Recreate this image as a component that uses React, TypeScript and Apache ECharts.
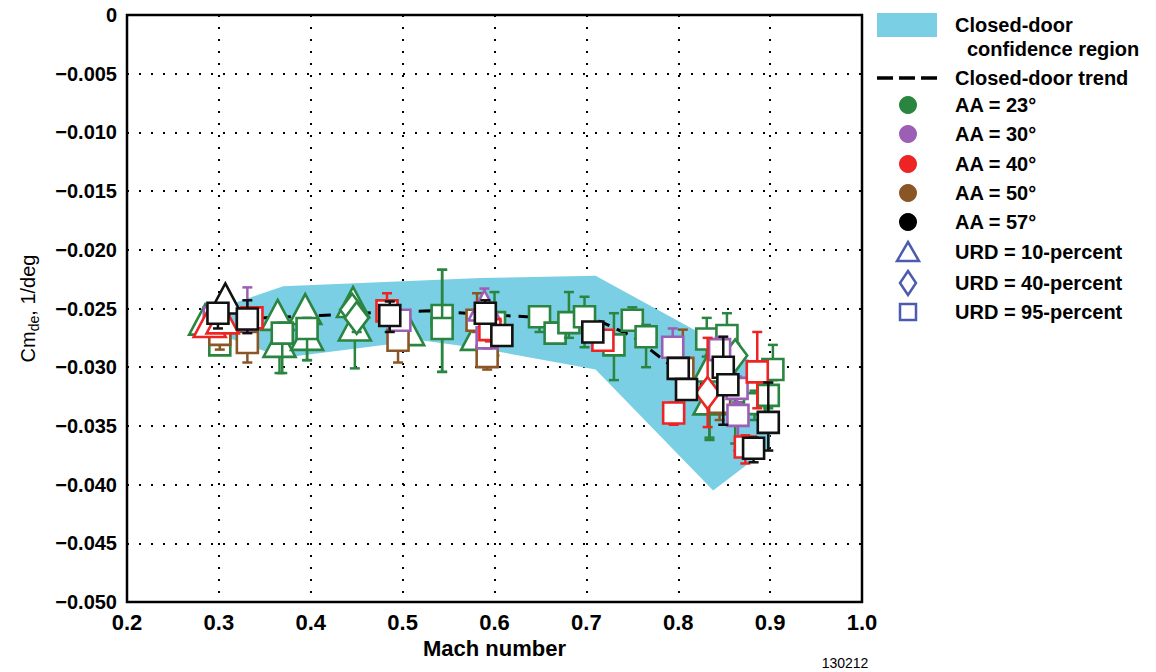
import React, { useEffect, useRef } from 'react';
import * as echarts from 'echarts';

const GREEN = '#2a8540';
const PURPLE = '#9b5fb5';
const RED = '#ee2424';
const BROWN = '#8b5626';
const BLACK = '#111111';
const CYAN = '#7bcfe4';
const LEG_BLUE = '#4a5bb0';

// x ticks / y ticks
const xTicks = [0.2, 0.3, 0.4, 0.5, 0.6, 0.7, 0.8, 0.9, 1.0];
const yMin = -0.05;
const yMax = 0;
const yStep = 0.005;

// Closed-door confidence region outline [Mach, Cm_de]
const regionOutline: number[][] = [
  [0.300, -0.0250], [0.370, -0.0231], [0.585, -0.0224], [0.710, -0.0222],
  [0.880, -0.0295], [0.900, -0.0310], [0.900, -0.0368], [0.838, -0.0405],
  [0.710, -0.0302], [0.585, -0.0284], [0.520, -0.0277], [0.370, -0.0292],
  [0.300, -0.0272],
];

// Closed-door trend [Mach, Cm_de]
const trend: number[][] = [
  [0.300, -0.0257], [0.345, -0.0258], [0.410, -0.0256], [0.480, -0.0253],
  [0.530, -0.0252], [0.610, -0.0256], [0.660, -0.0258], [0.715, -0.0261],
  [0.751, -0.0274], [0.791, -0.0298], [0.829, -0.0316],
];

// points: [Mach, Cm_de, errLow, errHigh, shape]  shape: 0 triangle (URD 10), 1 diamond (URD 40), 2 square (URD 95)
const aa23: number[][] = [
  [0.285, -0.0262, -0.0272, -0.0255, 0],
  [0.301, -0.0281, -0.0288, -0.0272, 2],
  [0.364, -0.0258, -0.0270, -0.0250, 0],
  [0.366, -0.0281, -0.0305, -0.0272, 0],
  [0.394, -0.0253, -0.0265, -0.0245, 0],
  [0.396, -0.0275, -0.0294, -0.0266, 0],
  [0.369, -0.0271, -0.0305, -0.0262, 2],
  [0.396, -0.0267, -0.0294, -0.0258, 2],
  [0.446, -0.0247, -0.0260, -0.0240, 0],
  [0.448, -0.0267, -0.0301, -0.0258, 0],
  [0.445, -0.0251, -0.0262, -0.0243, 1],
  [0.450, -0.0258, -0.0270, -0.0250, 1],
  [0.506, -0.0271, -0.0280, -0.0263, 0],
  [0.581, -0.0275, -0.0285, -0.0266, 0],
  [0.543, -0.0256, -0.0304, -0.0217, 2],
  [0.543, -0.0267, -0.0304, -0.0217, 2],
  [0.600, -0.0262, -0.0290, -0.0236, 2],
  [0.649, -0.0257, -0.0270, -0.0249, 2],
  [0.666, -0.0271, -0.0280, -0.0262, 2],
  [0.681, -0.0262, -0.0275, -0.0236, 2],
  [0.698, -0.0257, -0.0283, -0.0240, 2],
  [0.730, -0.0281, -0.0311, -0.0254, 2],
  [0.750, -0.0260, -0.0267, -0.0249, 2],
  [0.765, -0.0274, -0.0300, -0.0264, 2],
  [0.831, -0.0276, -0.0291, -0.0258, 2],
  [0.853, -0.0273, -0.0291, -0.0254, 2],
  [0.834, -0.0302, -0.0360, -0.0290, 0],
  [0.834, -0.0330, -0.0362, -0.0318, 0],
  [0.862, -0.0290, -0.0365, -0.0280, 1],
  [0.875, -0.0321, -0.0332, -0.0310, 2],
  [0.883, -0.0331, -0.0345, -0.0320, 2],
  [0.903, -0.0302, -0.0311, -0.0281, 2],
  [0.898, -0.0324, -0.0335, -0.0314, 2],
];

const aa30: number[][] = [
  [0.295, -0.0258, -0.0266, -0.0250, 2],
  [0.331, -0.0259, -0.0270, -0.0232, 2],
  [0.497, -0.0260, -0.0268, -0.0252, 2],
  [0.589, -0.0250, -0.0258, -0.0233, 0],
  [0.592, -0.0275, -0.0284, -0.0266, 2],
  [0.794, -0.0283, -0.0295, -0.0267, 2],
  [0.845, -0.0285, -0.0296, -0.0275, 2],
  [0.864, -0.0318, -0.0330, -0.0308, 2],
  [0.865, -0.0341, -0.0371, -0.0332, 2],
];

const aa40: number[][] = [
  [0.290, -0.0264, -0.0272, -0.0256, 0],
  [0.304, -0.0261, -0.0270, -0.0254, 0],
  [0.336, -0.0258, -0.0266, -0.0250, 2],
  [0.483, -0.0252, -0.0262, -0.0237, 2],
  [0.595, -0.0268, -0.0278, -0.0258, 2],
  [0.718, -0.0277, -0.0285, -0.0269, 2],
  [0.795, -0.0339, -0.0349, -0.0330, 2],
  [0.832, -0.0322, -0.0351, -0.0275, 1],
  [0.886, -0.0304, -0.0335, -0.0270, 2],
  [0.873, -0.0368, -0.0382, -0.0358, 2],
];

const aa50: number[][] = [
  [0.301, -0.0272, -0.0285, -0.0264, 2],
  [0.331, -0.0279, -0.0296, -0.0270, 2],
  [0.495, -0.0277, -0.0296, -0.0268, 2],
  [0.581, -0.0260, -0.0270, -0.0237, 2],
  [0.592, -0.0291, -0.0302, -0.0282, 2],
  [0.805, -0.0301, -0.0311, -0.0268, 2],
  [0.845, -0.0330, -0.0345, -0.0280, 2],
];

const aa57: number[][] = [
  [0.307, -0.0244, -0.0252, -0.0238, 0],
  [0.299, -0.0254, -0.0267, -0.0246, 2],
  [0.331, -0.0259, -0.0271, -0.0243, 2],
  [0.486, -0.0256, -0.0270, -0.0244, 2],
  [0.590, -0.0254, -0.0262, -0.0243, 2],
  [0.608, -0.0273, -0.0281, -0.0265, 2],
  [0.707, -0.0270, -0.0278, -0.0262, 2],
  [0.800, -0.0301, -0.0309, -0.0293, 2],
  [0.809, -0.0319, -0.0327, -0.0311, 2],
  [0.849, -0.0300, -0.0349, -0.0274, 2],
  [0.854, -0.0315, -0.0323, -0.0307, 2],
  [0.898, -0.0347, -0.0371, -0.0313, 2],
  [0.882, -0.0369, -0.0381, -0.0360, 2],
];

const legendFont = 'Liberation Sans, Arial, Helvetica, sans-serif';
const narrowFont = '"Liberation Sans Narrow", "Liberation Sans", Arial, sans-serif';

function markerRenderer(color: string) {
  return (params: any, api: any) => {
    const x = api.value(0);
    const y = api.value(1);
    const lo = api.value(2);
    const hi = api.value(3);
    const shape = api.value(4);
    const p = api.coord([x, y]);
    const pl = api.coord([x, lo]);
    const ph = api.coord([x, hi]);
    const cap = 5;
    const ls = { stroke: color, lineWidth: 2.5, fill: null };
    const children: any[] = [
      { type: 'line', shape: { x1: p[0], y1: ph[1], x2: p[0], y2: pl[1] }, style: ls },
      { type: 'line', shape: { x1: p[0] - cap, y1: ph[1], x2: p[0] + cap, y2: ph[1] }, style: ls },
      { type: 'line', shape: { x1: p[0] - cap, y1: pl[1], x2: p[0] + cap, y2: pl[1] }, style: ls },
    ];
    const ms = { fill: '#ffffff', stroke: color, lineWidth: 2.6 };
    if (shape === 0) {
      children.push({
        type: 'polygon',
        shape: { points: [[p[0], p[1] - 18], [p[0] + 16, p[1] + 12], [p[0] - 16, p[1] + 12]] },
        style: ms,
      });
    } else if (shape === 1) {
      children.push({
        type: 'polygon',
        shape: { points: [[p[0], p[1] - 16], [p[0] + 12, p[1]], [p[0], p[1] + 16], [p[0] - 12, p[1]]] },
        style: ms,
      });
    } else {
      children.push({
        type: 'rect',
        shape: { x: p[0] - 10.5, y: p[1] - 10.5, width: 21, height: 21 },
        style: ms,
      });
    }
    return { type: 'group', children };
  };
}

function pointSeries(name: string, data: number[][], color: string) {
  return {
    name,
    type: 'custom',
    renderItem: markerRenderer(color),
    data,
    encode: { x: 0, y: 1 },
    clip: false,
    z: 5,
  };
}

export default function App() {
  const ref = useRef<HTMLDivElement>(null);
  useEffect(() => {
    if (!ref.current) return;
    const chart = echarts.init(ref.current, undefined, { renderer: 'svg' });
    const legX = 877;
    const legTextX = 955;
    const rowY = [105, 134, 164, 193, 222, 252, 283, 312];
    const aaColors = [GREEN, PURPLE, RED, BROWN, '#000000'];
    const aaLabels = ['AA = 23°', 'AA = 30°', 'AA = 40°', 'AA = 50°', 'AA = 57°'];
    const urdLabels = ['URD = 10-percent', 'URD = 40-percent', 'URD = 95-percent'];
    const txt = (x: number, y: number, t: string) => ({
      type: 'text', x, y,
      style: { text: t, fill: '#000', font: `bold 20px ${legendFont}`, textVerticalAlign: 'middle' },
    });
    const graphics: any[] = [
      { type: 'rect', shape: { x: legX, y: 13, width: 60, height: 24 }, style: { fill: CYAN } },
      txt(legTextX, 25, 'Closed-door'),
      txt(legTextX + 12, 49, 'confidence region'),
      { type: 'line', shape: { x1: legX, y1: 78, x2: legX + 60, y2: 78 }, style: { stroke: '#000', lineWidth: 3.5, lineDash: [16, 6] } },
      txt(legTextX, 78, 'Closed-door trend'),
    ];
    aaColors.forEach((c, i) => {
      graphics.push({ type: 'circle', shape: { cx: 908, cy: rowY[i], r: 9 }, style: { fill: c } });
      graphics.push(txt(legTextX, rowY[i], aaLabels[i]));
    });
    const bs = { fill: null, stroke: LEG_BLUE, lineWidth: 2.5 };
    graphics.push({ type: 'polygon', shape: { points: [[908, rowY[5] - 10], [919, rowY[5] + 9], [897, rowY[5] + 9]] }, style: bs });
    graphics.push({ type: 'polygon', shape: { points: [[908, rowY[6] - 12], [916, rowY[6]], [908, rowY[6] + 12], [900, rowY[6]]] }, style: bs });
    graphics.push({ type: 'rect', shape: { x: 900, y: rowY[7] - 8, width: 16, height: 16 }, style: bs });
    urdLabels.forEach((t, i) => graphics.push(txt(legTextX, rowY[5 + i], t)));
    graphics.push({
      type: 'text', x: 845, y: 663,
      style: { text: '130212', fill: '#000', font: `14px ${narrowFont}`, textAlign: 'center', textVerticalAlign: 'middle' },
    });

    const dotted = { color: '#000', width: 2, type: [2, 10] as any };

    chart.setOption({
      animation: false,
      backgroundColor: '#ffffff',
      grid: {
        left: 127, top: 15, width: 735, height: 587,
        show: true, borderColor: '#000', borderWidth: 2.5, backgroundColor: 'transparent',
      },
      xAxis: {
        type: 'value', min: xTicks[0], max: xTicks[xTicks.length - 1], interval: 0.1,
        name: 'Mach number', nameLocation: 'middle', nameGap: 34,
        nameTextStyle: { fontSize: 22, fontWeight: 'bold', color: '#000', fontFamily: narrowFont },
        axisLine: { show: false }, axisTick: { show: false },
        axisLabel: {
          formatter: (v: number) => v.toFixed(1), fontSize: 22, fontWeight: 'bold', color: '#000',
          fontFamily: narrowFont, margin: 9,
        },
        splitLine: { show: true, lineStyle: dotted },
      },
      yAxis: {
        type: 'value', min: yMin, max: yMax, interval: yStep,
        name: 'Cm{sub|de}, 1/deg', nameLocation: 'middle', nameGap: 86,
        nameTextStyle: {
          fontSize: 20, color: '#000', fontFamily: legendFont,
          rich: { sub: { fontSize: 14, color: '#000', fontFamily: legendFont, padding: [12, 0, 0, 0] } },
        },
        axisLine: { show: false }, axisTick: { show: false },
        axisLabel: {
          formatter: (v: number) => (Math.abs(v) < 1e-9 ? '0' : '\u2212' + Math.abs(v).toFixed(3)),
          fontSize: 20, fontWeight: 'bold', color: '#000', fontFamily: legendFont, margin: 10,
        },
        splitLine: { show: true, lineStyle: dotted },
      },
      graphic: graphics,
      series: [
        {
          name: 'Closed-door confidence region',
          type: 'custom',
          data: regionOutline,
          encode: { x: 0, y: 1 },
          z: 2,
          renderItem: (params: any, api: any) => {
            if (params.dataIndex !== 0) return null;
            const pts = regionOutline.map((pt) => api.coord(pt));
            return { type: 'polygon', shape: { points: pts }, style: { fill: CYAN, stroke: null } };
          },
        },
        {
          name: 'Closed-door trend',
          type: 'line',
          data: trend,
          symbol: 'none',
          z: 3,
          lineStyle: { color: '#000', width: 3, type: [12, 8] as any },
        },
        pointSeries('AA = 23°', aa23, GREEN),
        pointSeries('AA = 50°', aa50, BROWN),
        pointSeries('AA = 30°', aa30, PURPLE),
        pointSeries('AA = 40°', aa40, RED),
        pointSeries('AA = 57°', aa57, BLACK),
      ],
    });
    return () => chart.dispose();
  }, []);
  return (
    <div
      ref={ref}
      style={{ position: 'fixed', left: 0, top: 0, width: 1156, height: 672, background: '#fff' }}
    />
  );
}
